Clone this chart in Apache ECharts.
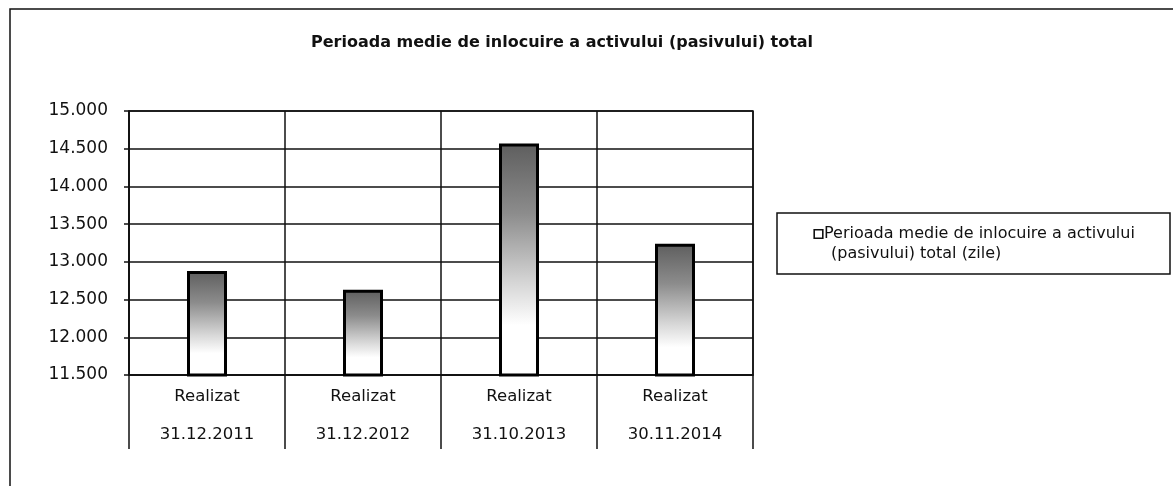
<!DOCTYPE html>
<html>
<head>
<meta charset="utf-8">
<script src="https://cdn.jsdelivr.net/npm/echarts@6/dist/echarts.min.js"></script>
<style>
  html, body { margin: 0; padding: 0; background: #fff; }
  #chart { width: 1173px; height: 486px; }
</style>
</head>
<body>
<div id="chart"></div>
<script>
// Average replacement period of total assets (liabilities), in days
const titleText = 'Perioada medie de inlocuire a activului (pasivului) total';
const seriesName = 'Perioada medie de inlocuire a activului (pasivului) total (zile)';
const legendLines = ['Perioada medie de inlocuire a activului', '(pasivului) total (zile)'];
const stageLabel = 'Realizat';
const periods = ['31.12.2011', '31.12.2012', '31.10.2013', '30.11.2014'];
const values = [12880, 12630, 14570, 13240];
const yMin = 11500;
const yMax = 15000;
const yStep = 500;

const FONT = '"DejaVu Sans", "Liberation Sans", Arial, sans-serif';
const INK = '#111';

function thousands(v) {
  return String(v).replace(/\B(?=(\d{3})+(?!\d))/g, '.');
}

const chart = echarts.init(document.getElementById('chart'), null, { renderer: 'canvas' });

chart.setOption({
  backgroundColor: '#fff',
  animation: false,
  textStyle: { fontFamily: FONT, color: INK },
  title: {
    text: titleText,
    left: 311,
    top: 35,
    padding: 0,
    textStyle: { fontFamily: FONT, fontSize: 16, fontWeight: 'bold', color: INK }
  },
  legend: {
    left: 810,
    top: 224,
    padding: 0,
    icon: 'none',
    itemWidth: 0,
    itemGap: 0,
    selectedMode: false,
    data: [seriesName],
    formatter: function () {
      return '{sq|}{t|' + legendLines[0] + '}\n{ind|}{t|' + legendLines[1] + '}';
    },
    textStyle: {
      fontFamily: FONT,
      fontSize: 16,
      color: INK,
      lineHeight: 20,
      rich: {
        sq: { width: 7, height: 7, borderColor: INK, borderWidth: 1.6, backgroundColor: '#fff', padding: 0 },
        ind: { width: 14 },
        t: { fontFamily: FONT, fontSize: 16, color: INK, lineHeight: 20, padding: [0, 0, 0, 2] }
      }
    }
  },
  grid: {
    left: 129,
    right: 420,
    top: 111,
    bottom: 111,
    show: true,
    borderColor: INK,
    borderWidth: 1.5,
    containLabel: false
  },
  xAxis: {
    type: 'category',
    data: periods,
    boundaryGap: true,
    axisLine: { show: true, lineStyle: { color: INK, width: 1.5 } },
    axisTick: { show: true, length: 74, interval: 0, lineStyle: { color: INK, width: 1.5 } },
    splitLine: { show: true, interval: 0, lineStyle: { color: INK, width: 1.5 } },
    axisLabel: {
      interval: 0,
      margin: 3,
      fontFamily: FONT,
      fontSize: 16.5,
      color: INK,
      lineHeight: 38,
      formatter: function (p) { return stageLabel + '\n' + p; }
    }
  },
  yAxis: {
    type: 'value',
    min: yMin,
    max: yMax,
    interval: yStep,
    axisLine: { show: true, lineStyle: { color: INK, width: 1.5 } },
    axisTick: { show: true, length: 5, lineStyle: { color: INK, width: 1.5 } },
    splitLine: { show: true, lineStyle: { color: INK, width: 1.5 } },
    axisLabel: {
      margin: 21,
      fontFamily: FONT,
      fontSize: 17,
      color: INK,
      formatter: thousands
    }
  },
  series: [{
    name: seriesName,
    type: 'bar',
    data: values,
    barWidth: 40,
    itemStyle: {
      borderColor: '#000',
      borderWidth: 3,
      color: new echarts.graphic.LinearGradient(0, 0, 0, 1, [
        { offset: 0, color: '#5e5e5e' },
        { offset: 0.3, color: '#8c8c8c' },
        { offset: 0.6, color: '#d6d6d6' },
        { offset: 0.78, color: '#ffffff' },
        { offset: 1, color: '#ffffff' }
      ])
    }
  }],
  graphic: [
    {
      type: 'rect',
      silent: true,
      shape: { x: 10, y: 9, width: 1200, height: 520 },
      style: { fill: 'none', stroke: INK, lineWidth: 1.5 },
      z: -1
    },
    {
      type: 'rect',
      silent: true,
      shape: { x: 777, y: 213, width: 393, height: 61 },
      style: { fill: 'none', stroke: INK, lineWidth: 1.5 },
      z: -1
    }
  ]
});
</script>
</body>
</html>
